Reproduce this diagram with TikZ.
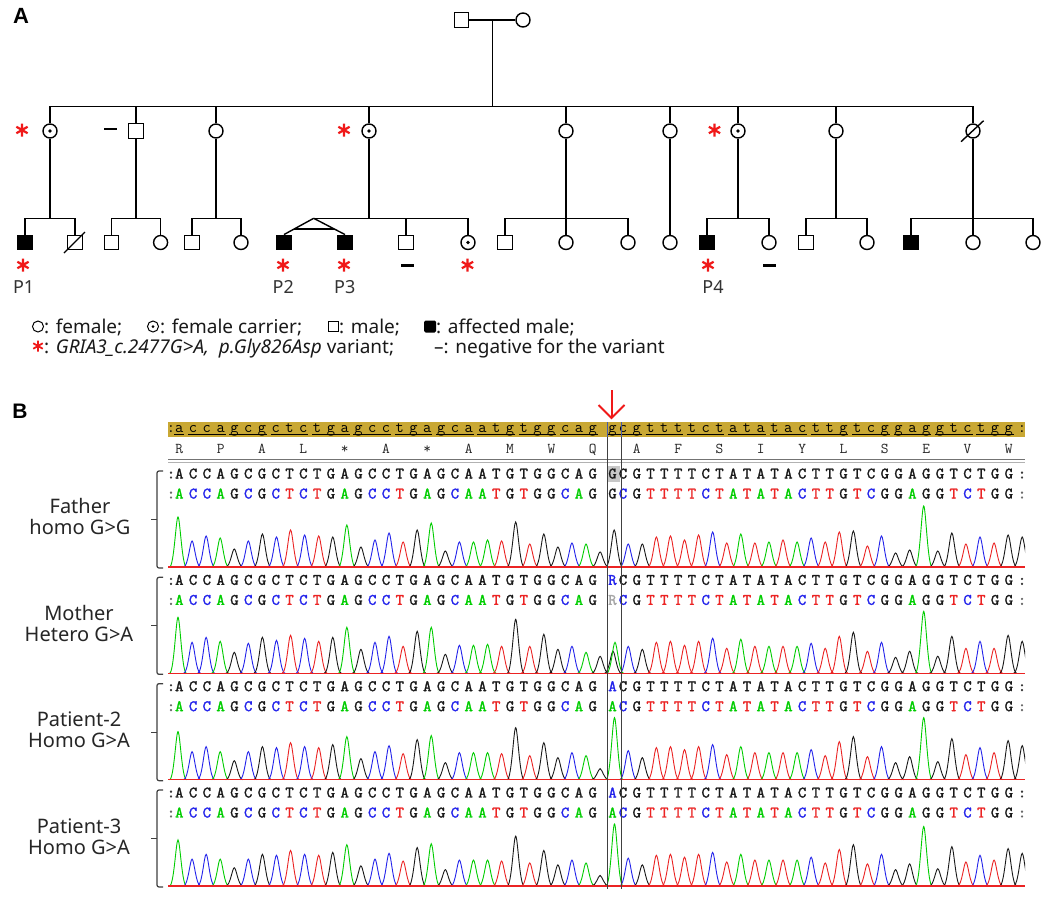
\documentclass[tikz,border=0pt]{standalone}
\usepackage{fontspec}
\newfontfamily\pedfont{Noto Sans}
\newfontfamily\labfont{Liberation Sans}
\newfontfamily\seqbold{lmmono10-regular}[Extension=.otf, FakeBold=1.6]
\usetikzlibrary{calc}
\definecolor{colA}{RGB}{0,205,0}
\definecolor{colC}{RGB}{35,35,235}
\definecolor{colG}{RGB}{25,25,25}
\definecolor{colT}{RGB}{235,35,35}
\definecolor{gold}{RGB}{201,168,52}
\definecolor{boxblue}{RGB}{70,90,170}
\definecolor{pedred}{RGB}{240,25,25}

\def\seqlist{A,C,C,A,G,C,G,C,T,C,T,G,A,G,C,C,T,G,A,G,C,A,A,T,G,T,G,G,C,A,G,C,G,T,T,T,T,C,T,A,T,A,T,A,C,T,T,G,T,C,G,G,A,G,G,T,C,T,G,G}
\def\HF{{50,26,31,29,18,26,33,30,37,32,31,30,42,20,27,34,25,37,44,16,25,25,27,26,45,23,33,20,24,23,15,23,23,30,31,27,32,35,24,33,24,25,27,25,29,25,35,36,21,31,14,17,61,16,34,23,30,24,32,30}}
\def\HM{{56,31,36,32,21,30,36,33,38,35,32,36,46,24,31,37,27,42,46,19,28,28,29,27,54,27,39,24,27,21,17,27,24,31,32,28,32,35,25,34,27,27,27,27,30,25,37,41,22,31,16,22,62,17,37,25,32,25,38,32}}
\def\HP{{48,28,33,28,19,28,33,32,37,33,32,35,43,21,28,34,26,40,44,17,27,27,27,26,52,24,37,22,27,24,11,29,22,32,33,30,33,35,25,33,27,27,27,27,30,24,38,43,23,33,17,23,62,18,41,25,32,27,39,34}}

\newcommand\chpeak[4]{\draw[#4,line width=0.9pt] ({#1-8.5},#2) .. controls ({#1-4},#2) and ({#1-2},{#2-#3}) .. (#1,{#2-#3}) .. controls ({#1+2},{#2-#3}) and ({#1+4},#2) .. ({#1+8.5},#2);}
\newcommand\chtrace[3]{\foreach \c [count=\n from 0] in \seqlist {\pgfmathsetmacro\kk{\n<31 ? \n : \n+1}\pgfmathsetmacro\xx{178+14.07*\kk}\pgfmathsetmacro\hh{#3*#2[\n]}\chpeak{\xx}{#1}{\hh}{col\c}}}
\newcommand\chrow[2]{\foreach \c [count=\n from 0] in \seqlist {\pgfmathsetmacro\xx{\n<31 ? 179.3+13.78*\n : 623+13.78*(\n-31)}\node[rowl, text=#2] at (\xx,#1) {\c};}}
\newcommand\rstar[4]{\draw[pedred, line width=#4, shift={(#1,#2)}] (90:#3) -- (270:#3) (30:#3) -- (210:#3) (150:#3) -- (330:#3);}

\tikzset{
 ped/.style={draw, line width=1.4pt, inner sep=0pt},
 male/.style={ped, rectangle, minimum size=14.5pt},
 female/.style={ped, circle, minimum size=14pt},
 affm/.style={male, fill=black},
 carrier/.style={female, path picture={\fill (path picture bounding box.center) circle (1.9pt);}},
 pline/.style={line width=1.4pt},
 plab/.style={font=\pedfont\fontsize{18}{19}\selectfont, text=black!80, inner sep=0pt},
 slab/.style={font=\pedfont\fontsize{20}{21}\selectfont, text=black!85, inner sep=0pt},
 leg/.style={font=\pedfont\fontsize{19}{20}\selectfont, text=black!90, inner sep=0pt, anchor=base west},
 rowl/.style={anchor=base, inner sep=0pt, font=\seqbold\fontsize{16}{16}\selectfont},
 hdl/.style={anchor=base, inner sep=0pt, font=\ttfamily\fontsize{16}{16}\selectfont},
 aal/.style={anchor=base, inner sep=0pt, font=\ttfamily\fontsize{15}{15}\selectfont, text=black!85},
 brk/.style={line width=1.2pt, black!75, rounded corners=2pt},
}

\begin{document}
\begin{tikzpicture}[x=1pt,y=-1pt]
\useasboundingbox[fill=white] (0,0) rectangle (1050,899);

% ---------------- Panel A: pedigree ----------------
\node[font=\labfont\bfseries\fontsize{22}{24}\selectfont, inner sep=0pt] (labA) at (21,16) {A};

\node[male] (gf) at (461.5,20) {};
\node[female] (gm) at (523,20) {};
\coordinate (sl) at (0,106.7);
\coordinate (cl) at (0,218.3);
\coordinate (gmid) at (492.2,20);
\draw[pline] (gf) -- (gm);
\draw[pline] (gmid) -- (gmid |- sl);

% generation II
\node[carrier] (c1) at (50,131) {};
\node[male]    (c2) at (136,131) {};
\node[female]  (c3) at (216,131) {};
\node[carrier] (c4) at (369,131) {};
\node[female]  (c5) at (566,131) {};
\node[female]  (c6) at (670,131) {};
\node[carrier] (c7) at (738,131) {};
\node[female]  (c8) at (836,131) {};
\node[female]  (c9) at (973,131) {};
\draw[pline] (c1.north) |- (c9 |- sl) -- (c9.north);
\foreach \cc in {c2,c3,c4,c5,c6,c7,c8} {\draw[pline] (\cc.north) -- (\cc |- sl);}
\draw[pline] ($(c9)+(-12,10.7)$) -- ($(c9)+(10.6,-10.3)$);

% generation III
\node[affm]    (d11) at (25,242.5) {};
\node[male]    (d12) at (75,242.5) {};
\node[male]    (d21) at (111.5,242.5) {};
\node[female]  (d22) at (160.6,242.5) {};
\node[male]    (d31) at (192,242.5) {};
\node[female]  (d32) at (241,242.5) {};
\node[affm]    (d41) at (284,242.5) {};
\node[affm]    (d42) at (345,242.5) {};
\node[male]    (d43) at (406,242.5) {};
\node[carrier] (d44) at (468,242.5) {};
\node[male]    (d51) at (505,242.5) {};
\node[female]  (d52) at (566,242.5) {};
\node[female]  (d53) at (628,242.5) {};
\node[female]  (d61) at (670,242.5) {};
\node[affm]    (d71) at (707,242.5) {};
\node[female]  (d72) at (769,242.5) {};
\node[male]    (d81) at (806,242.5) {};
\node[female]  (d82) at (867,242.5) {};
\node[affm]    (d91) at (911,242.5) {};
\node[female]  (d92) at (973,242.5) {};
\node[female]  (d93) at (1033,242.5) {};
\draw[pline] ($(d12)+(-11,10.5)$) -- ($(d12)+(10,-10.5)$);

% families
\draw[pline] (c1.south) -- (c1 |- cl);
\draw[pline] (d11.north) |- (d12 |- cl) -- (d12.north);
\draw[pline] (c2.south) -- (c2 |- cl);
\draw[pline] (d21.north) |- (d22 |- cl) -- (d22.north);
\draw[pline] (c3.south) -- (c3 |- cl);
\draw[pline] (d31.north) |- (d32 |- cl) -- (d32.north);
\coordinate (apex) at (313.7,218.3);
\draw[pline] (c4.south) -- (c4 |- cl);
\draw[pline] (apex) -| (d44.north);
\draw[pline] (d43.north) -- (d43 |- cl);
\draw[pline] (apex) -- (d41.north);
\draw[pline] (apex) -- (d42.north);
\draw[pline] ($(apex)!0.66!(d41.north)$) -- ($(apex)!0.66!(d42.north)$);
\draw[pline] (c5.south) -- (d52.north);
\draw[pline] (d51.north) |- (d53 |- cl) -- (d53.north);
\draw[pline] (c6.south) -- (d61.north);
\draw[pline] (c7.south) -- (c7 |- cl);
\draw[pline] (d71.north) |- (d72 |- cl) -- (d72.north);
\draw[pline] (c8.south) -- (c8 |- cl);
\draw[pline] (d81.north) |- (d82 |- cl) -- (d82.north);
\draw[pline] (c9.south) -- (d92.north);
\draw[pline] (d91.north) |- (d93 |- cl) -- (d93.north);

% variant marks
\rstar{22}{130}{6.5}{2.2pt}
\rstar{344}{130}{6.5}{2.2pt}
\rstar{714.5}{130}{6.5}{2.2pt}
\rstar{23}{265}{6.5}{2.2pt}
\rstar{283}{265}{6.5}{2.2pt}
\rstar{344}{265}{6.5}{2.2pt}
\rstar{467.5}{265}{6.5}{2.2pt}
\rstar{708}{265}{6.5}{2.2pt}
\draw[line width=2.8pt] (104,129) -- (117,129);
\draw[line width=2.8pt] (401,265.5) -- (413.5,265.5);
\draw[line width=2.8pt] (763,265.5) -- (775.5,265.5);

\node[plab] (lp1) at (23.7,287) {P1};
\node[plab] (lp2) at (283.3,287) {P2};
\node[plab] (lp3) at (344.8,287) {P3};
\node[plab] (lp4) at (713,287) {P4};

% legend
\draw[line width=1pt] (38,326.5) circle (5.5);
\node[leg] (lg1) at (44,333) {: female;};
\draw[line width=1pt] (153,326.5) circle (5.5);
\fill (153,326.5) circle (1.5);
\node[leg] (lg2) at (160,333) {: female carrier;};
\draw[line width=1pt] (328,321.5) rectangle (338,331.5);
\node[leg] (lg3) at (339,333) {: male;};
\fill[rounded corners=1.5pt] (424,320.5) rectangle (436,332.5);
\node[leg] (lg4) at (436,333) {: affected male;};
\rstar{38}{346}{5.5}{1.8pt}
\node[leg] (lg5) at (44,353) {: \textit{GRIA3\_c.2477G>A,\ \ p.Gly826Asp} variant;};
\node[leg] (lg6) at (434,353) {\textendash: negative for the variant};

% ---------------- Panel B: chromatograms ----------------
\node[font=\labfont\bfseries\fontsize{21}{23}\selectfont, inner sep=0pt] (labB) at (20,411) {B};

% header bar
\fill[gold] (168,422) rectangle (1025,436.5);
\foreach \c [count=\n from 0] in \seqlist {
  \pgfmathsetmacro\xx{\n<31 ? 179.3+13.78*\n : 623+13.78*(\n-31)}
  \node[hdl] at (\xx,432) {\expandafter\lowercase\expandafter{\c}};
}
\node[hdl] at (612.5,432) {g};
\node[hdl] at (171,432) {:};
\node[hdl] at (1022,432) {:};
\draw[line width=0.8pt] (174.3,434.8) -- (184.3,434.8);
\foreach \m in {0,...,9} {\draw[line width=0.8pt] ({179.3+13.78*(3*\m+1)-5},434.8) -- ({179.3+13.78*(3*\m+3)+5},434.8);}
\draw[line width=0.8pt] (607.5,434.8) -- ({623+13.78+5},434.8);
\foreach \m in {0,...,8} {\draw[line width=0.8pt] ({623+13.78*(3*\m+2)-5},434.8) -- ({623+13.78*(3*\m+4)+5},434.8);}

% amino acid row
\foreach \a [count=\m from 0] in {R,P,A,L,*,A,*,A,M,W,Q} {\node[aal] at ({179.3+41.34*\m},453) {\a};}
\foreach \a [count=\m from 0] in {A,F,S,I,Y,L,S,E,V,W} {\node[aal] at ({623+13.78+41.34*\m},453) {\a};}
\draw[line width=1.6pt, black!55] (168,459.6) -- (1025,459.6);
\draw[line width=0.8pt, black!30] (168,462) -- (1025,462);

% father row highlight
\fill[black!22] (607.6,465.5) rectangle (620.4,481.5);

% sequence rows
\foreach \p in {0,1,2,3} {
  \pgfmathsetmacro\ra{478.5+106.33*\p}
  \pgfmathsetmacro\rb{498.5+106.33*\p}
  \chrow{\ra}{black!90}
  \chrow{\rb}{col\c}
  \node[rowl, text=black!80] at (171,\ra) {:};
  \node[rowl, text=black!60] at (171,\rb) {:};
  \node[rowl, text=black!80] at (1022,\ra) {:};
  \node[rowl, text=black!60] at (1022,\rb) {:};
}
\node[rowl, text=black!90] at (612.5,478.5) {G};
\node[rowl, text=black!90] at (612.5,498.5) {G};
\node[rowl, text=colC] at (612.5,584.83) {R};
\node[rowl, text=black!35] at (612.5,604.83) {R};
\node[rowl, text=colC] at (612.5,691.16) {A};
\node[rowl, text=colA] at (612.5,711.16) {A};
\node[rowl, text=colC] at (612.5,797.5) {A};
\node[rowl, text=colA] at (612.5,817.5) {A};

% traces
\begin{scope}
\clip (168,440) rectangle (1025,899);
\chtrace{567}{\HF}{1}
\chpeak{614.2}{567}{37}{colG}
\chtrace{673.33}{\HM}{1}
\chpeak{613}{673.33}{22}{colG}
\chpeak{615}{673.33}{31}{colA}
\chtrace{779.66}{\HP}{1}
\chpeak{614.5}{779.66}{62}{colA}
\chtrace{886}{\HP}{0.96}
\chpeak{614.5}{886}{62}{colA}
\end{scope}
\foreach \b in {567,673.33,779.66,886} {\draw[colT, line width=1.3pt] (168,\b) -- (1025,\b);}

% box column
\draw[line width=1pt, black!75] (607,436.5) -- (607,889);
\draw[line width=1pt, black!75] (621,436.5) -- (621,889);
\draw[line width=1pt, boxblue] (607,422) -- (607,436.5);
\draw[line width=1pt, boxblue] (621,422) -- (621,436.5);

% red arrow
\draw[pedred, line width=2pt] (611.5,390) -- (611.5,417);
\draw[pedred, line width=2pt, line join=miter] (598.5,405) -- (611.5,418) -- (624.5,405);

% brackets and labels
\foreach \p in {0,1,2,3} {
  \pgfmathsetmacro\tp{471+106.33*\p}
  \pgfmathsetmacro\bt{568+106.33*\p}
  \pgfmathsetmacro\md{519.5+106.33*\p}
  \draw[brk] (163,\tp) -- (157,\tp) -- (157,\bt) -- (163,\bt);
  \draw[line width=1.2pt, black!75] (157,\md) -- (151,\md);
}
\node[slab] (f1) at (80,506) {Father};
\node[slab] (f2) at (80,527) {homo G>G};
\node[slab] (m1) at (79,613) {Mother};
\node[slab] (m2) at (79,634) {Hetero G>A};
\node[slab] (q1) at (79,719.5) {Patient-2};
\node[slab] (q2) at (79,740.5) {Homo G>A};
\node[slab] (r1) at (79,826) {Patient-3};
\node[slab] (r2) at (79,847) {Homo G>A};
\end{tikzpicture}
\end{document}
